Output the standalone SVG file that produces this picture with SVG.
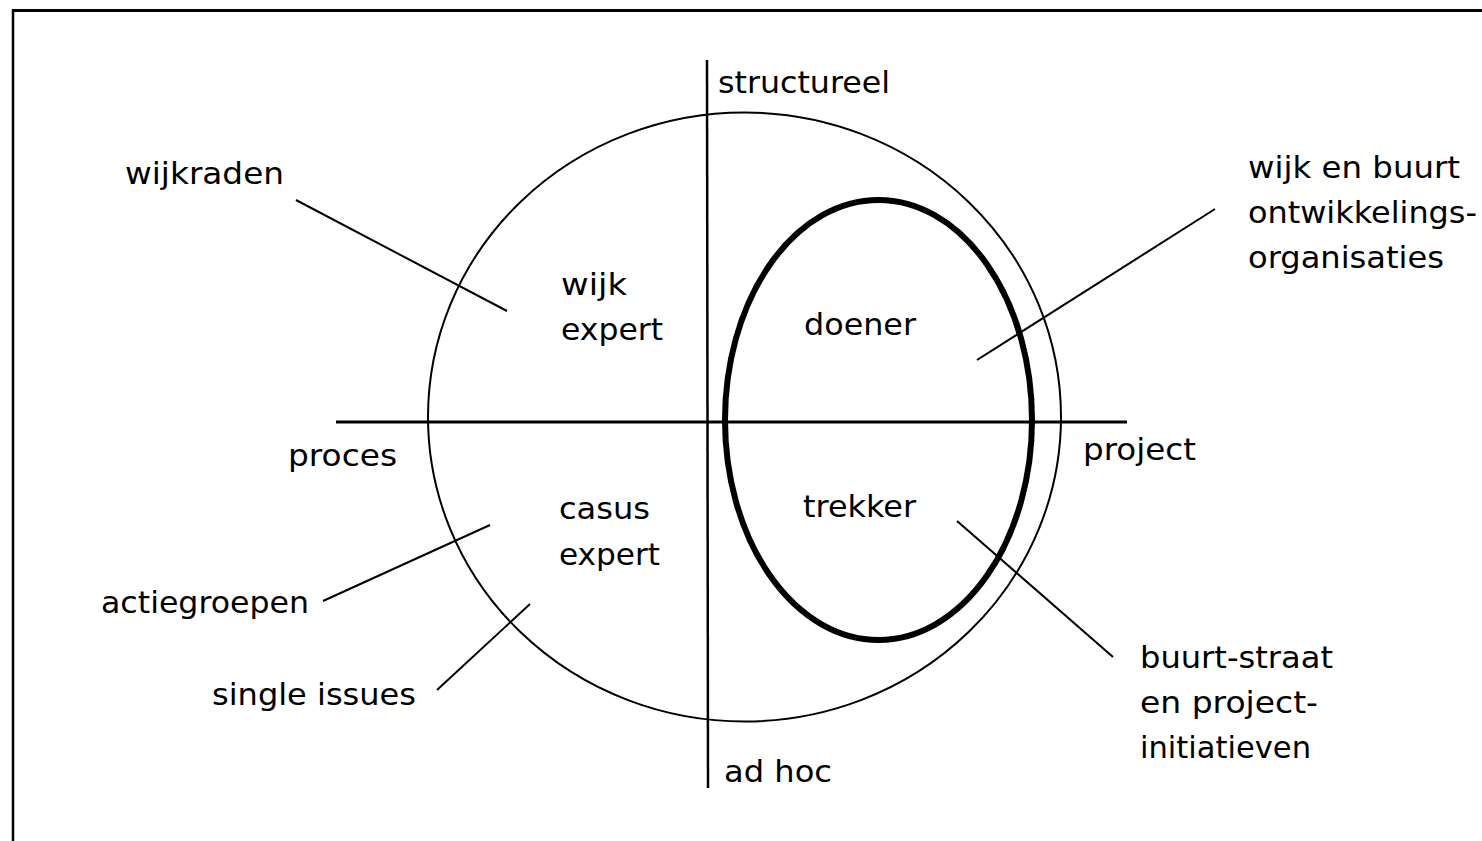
<svg xmlns="http://www.w3.org/2000/svg" width="1482" height="841" viewBox="0 0 1482 841">
<style>
.t{font-family:"DejaVu Sans","Liberation Sans",sans-serif;font-size:31px;fill:#000}
.ln{stroke:#000;stroke-width:2;fill:none}
</style>
<rect width="1482" height="841" fill="#fff"/>
<g id="frame">
<line x1="12" y1="10.5" x2="1482" y2="10.5" stroke="#000" stroke-width="3"/>
<line x1="13" y1="9" x2="13" y2="841" stroke="#000" stroke-width="2.5"/>
</g>
<g id="outer-circle"><ellipse cx="744.5" cy="417" rx="316.5" ry="304.5" class="ln"/></g>
<g id="inner-ellipse"><ellipse cx="878.5" cy="420" rx="153.5" ry="220" stroke="#000" stroke-width="6" fill="none"/></g>
<g id="axes">
<line x1="336" y1="422" x2="1127" y2="422" stroke="#000" stroke-width="3"/>
<line x1="707" y1="60" x2="708" y2="788" stroke="#000" stroke-width="2.5"/>
</g>
<g id="connectors">
<line x1="296" y1="200" x2="507" y2="311" class="ln"/>
<line x1="1215" y1="209" x2="977" y2="360" class="ln"/>
<line x1="323" y1="601" x2="490" y2="525" class="ln"/>
<line x1="437" y1="690" x2="530" y2="604" class="ln"/>
<line x1="957" y1="521" x2="1113" y2="657" class="ln"/>
</g>
<g id="label-structureel"><text class="t" x="718" y="93" textLength="172" lengthAdjust="spacingAndGlyphs">structureel</text></g>
<g id="label-adhoc"><text class="t" x="724" y="782" textLength="108" lengthAdjust="spacingAndGlyphs">ad hoc</text></g>
<g id="label-proces"><text class="t" x="288" y="466" textLength="109" lengthAdjust="spacingAndGlyphs">proces</text></g>
<g id="label-project"><text class="t" x="1083" y="460" textLength="113" lengthAdjust="spacingAndGlyphs">project</text></g>
<g id="label-wijkraden"><text class="t" x="125" y="184" textLength="159" lengthAdjust="spacingAndGlyphs">wijkraden</text></g>
<g id="node-wijkexpert">
<text class="t" x="561" y="295" textLength="66" lengthAdjust="spacingAndGlyphs">wijk</text>
<text class="t" x="561" y="340" textLength="102" lengthAdjust="spacingAndGlyphs">expert</text>
</g>
<g id="node-doener"><text class="t" x="804" y="335" textLength="112" lengthAdjust="spacingAndGlyphs">doener</text></g>
<g id="node-casusexpert">
<text class="t" x="559" y="519" textLength="91" lengthAdjust="spacingAndGlyphs">casus</text>
<text class="t" x="559" y="565" textLength="101" lengthAdjust="spacingAndGlyphs">expert</text>
</g>
<g id="node-trekker"><text class="t" x="803" y="517" textLength="113" lengthAdjust="spacingAndGlyphs">trekker</text></g>
<g id="label-wijkbuurt">
<text class="t" x="1248" y="178" textLength="212" lengthAdjust="spacingAndGlyphs">wijk en buurt</text>
<text class="t" x="1248" y="223" textLength="229" lengthAdjust="spacingAndGlyphs">ontwikkelings-</text>
<text class="t" x="1248" y="268" textLength="196" lengthAdjust="spacingAndGlyphs">organisaties</text>
</g>
<g id="label-actiegroepen"><text class="t" x="101" y="613" textLength="208" lengthAdjust="spacingAndGlyphs">actiegroepen</text></g>
<g id="label-singleissues"><text class="t" x="212" y="705" textLength="204" lengthAdjust="spacingAndGlyphs">single issues</text></g>
<g id="label-buurtstraat">
<text class="t" x="1140" y="668" textLength="193" lengthAdjust="spacingAndGlyphs">buurt-straat</text>
<text class="t" x="1140" y="713" textLength="178" lengthAdjust="spacingAndGlyphs">en project-</text>
<text class="t" x="1140" y="758" textLength="171" lengthAdjust="spacingAndGlyphs">initiatieven</text>
</g>
</svg>
